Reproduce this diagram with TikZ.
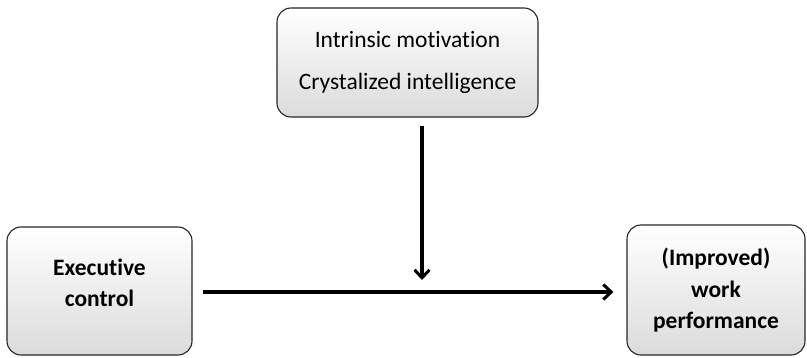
\documentclass[tikz,border=0pt]{standalone}
\usepackage{fontspec}
\setmainfont{Carlito}[Ligatures=NoCommon]
\usepackage{xcolor}
\usepackage{tikz}
\usetikzlibrary{
  arrows.meta,
  positioning,
  calc
}

\tikzset{
  factorbox/.style={draw=black!85, line width=1.1pt, rounded corners=14pt,
    top color=white, bottom color=black!14, align=center, inner sep=0pt,
    font=\fontsize{23.5}{29}\selectfont},
  link/.style={line width=3.2pt, -{Straight Barb[length=8pt,width=15pt,line width=3pt]}}
}

\begin{document}
\begin{tikzpicture}[x=1pt, y=1pt]
\useasboundingbox (0,0) rectangle (807,357);
\node[factorbox, minimum width=261pt, minimum height=109pt] (moderator) at (407.5,294.5)
  {Intrinsic motivation\\[13pt] Crystalized intelligence};
\node[factorbox, minimum width=185pt, minimum height=128pt, text depth=16pt,
      font=\fontsize{23.5}{29}\selectfont\bfseries] (control) at (99.5,66)
  {Executive\\[2pt] control};
\node[factorbox, minimum width=178pt, minimum height=130pt,
      font=\fontsize{23.5}{29}\selectfont\bfseries] (performance) at (716,67)
  {(Improved)\\[3pt] work\\[2pt] performance};
\coordinate (meet) at (422,77);
% main path, moderated from above
\draw[link, shorten <=10pt, shorten >=13pt] (control.east |- 0,65) -- (performance.west |- 0,65);
\draw[link, shorten <=8pt] (moderator.south -| meet) -- (meet);
\end{tikzpicture}
\end{document}
